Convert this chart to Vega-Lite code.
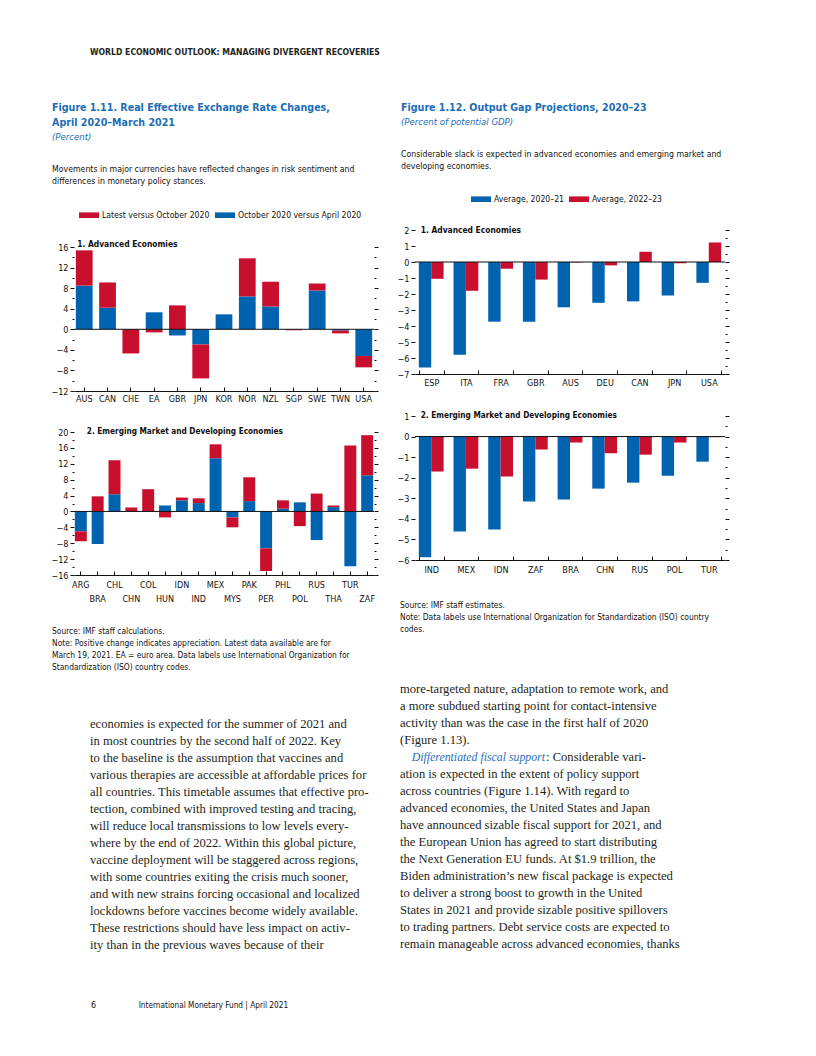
{
  "$schema": "https://vega.github.io/schema/vega-lite/v6.json",
  "background": "white",
  "padding": {"left": 50, "top": 40, "right": 0, "bottom": 20},
  "bounds": "flush",
  "spacing": 341,
  "resolve": {"scale": {"color": "independent"}, "legend": {"color": "independent"}},
  "config": {
    "view": {"stroke": null},
    "font": "'DejaVu Sans Condensed', 'DejaVu Sans', sans-serif",
    "axis": {"labelFont": "'DejaVu Sans Condensed', 'DejaVu Sans', sans-serif", "labelFontSize": 9, "labelColor": "#111111", "tickColor": "#111111", "domainColor": "#111111", "tickWidth": 1, "domainWidth": 1, "grid": false, "title": null},
    "legend": {"labelFont": "'DejaVu Sans Condensed', 'DejaVu Sans', sans-serif", "labelFontSize": 8.6, "labelColor": "#111111", "symbolType": "M-1,-0.28H1V0.28H-1Z", "symbolSize": 400, "symbolStrokeWidth": 0, "symbolOpacity": 1, "columnPadding": 5, "labelOffset": 3, "padding": 0}
  },
  "datasets": {
    "reer_ae": [
      {"country": "AUS", "series": "October 2020 versus April 2020", "value": 8.5},
      {"country": "AUS", "series": "Latest versus October 2020", "value": 6.85},
      {"country": "CAN", "series": "October 2020 versus April 2020", "value": 4.2},
      {"country": "CAN", "series": "Latest versus October 2020", "value": 4.9},
      {"country": "CHE", "series": "October 2020 versus April 2020", "value": 0},
      {"country": "CHE", "series": "Latest versus October 2020", "value": -4.7},
      {"country": "EA", "series": "October 2020 versus April 2020", "value": 3.3},
      {"country": "EA", "series": "Latest versus October 2020", "value": -0.6},
      {"country": "GBR", "series": "October 2020 versus April 2020", "value": -1.2},
      {"country": "GBR", "series": "Latest versus October 2020", "value": 4.65},
      {"country": "JPN", "series": "October 2020 versus April 2020", "value": -2.95},
      {"country": "JPN", "series": "Latest versus October 2020", "value": -6.6},
      {"country": "KOR", "series": "October 2020 versus April 2020", "value": 2.9},
      {"country": "KOR", "series": "Latest versus October 2020", "value": 0},
      {"country": "NOR", "series": "October 2020 versus April 2020", "value": 6.4},
      {"country": "NOR", "series": "Latest versus October 2020", "value": 7.4},
      {"country": "NZL", "series": "October 2020 versus April 2020", "value": 4.45},
      {"country": "NZL", "series": "Latest versus October 2020", "value": 4.8},
      {"country": "SGP", "series": "October 2020 versus April 2020", "value": -0.05},
      {"country": "SGP", "series": "Latest versus October 2020", "value": -0.15},
      {"country": "SWE", "series": "October 2020 versus April 2020", "value": 7.55},
      {"country": "SWE", "series": "Latest versus October 2020", "value": 1.35},
      {"country": "TWN", "series": "October 2020 versus April 2020", "value": -0.25},
      {"country": "TWN", "series": "Latest versus October 2020", "value": -0.55},
      {"country": "USA", "series": "October 2020 versus April 2020", "value": -5.2},
      {"country": "USA", "series": "Latest versus October 2020", "value": -2.2}
    ],
    "reer_em": [
      {"country": "ARG", "series": "October 2020 versus April 2020", "value": -5.0},
      {"country": "ARG", "series": "Latest versus October 2020", "value": -2.5},
      {"country": "BRA", "series": "October 2020 versus April 2020", "value": -8.2},
      {"country": "BRA", "series": "Latest versus October 2020", "value": 3.8},
      {"country": "CHL", "series": "October 2020 versus April 2020", "value": 4.3},
      {"country": "CHL", "series": "Latest versus October 2020", "value": 8.6},
      {"country": "CHN", "series": "October 2020 versus April 2020", "value": 0},
      {"country": "CHN", "series": "Latest versus October 2020", "value": 1.0},
      {"country": "COL", "series": "October 2020 versus April 2020", "value": 0},
      {"country": "COL", "series": "Latest versus October 2020", "value": 5.6},
      {"country": "HUN", "series": "October 2020 versus April 2020", "value": 1.5},
      {"country": "HUN", "series": "Latest versus October 2020", "value": -1.5},
      {"country": "IDN", "series": "October 2020 versus April 2020", "value": 2.8},
      {"country": "IDN", "series": "Latest versus October 2020", "value": 0.7},
      {"country": "IND", "series": "October 2020 versus April 2020", "value": 2.1},
      {"country": "IND", "series": "Latest versus October 2020", "value": 1.2},
      {"country": "MEX", "series": "October 2020 versus April 2020", "value": 13.4},
      {"country": "MEX", "series": "Latest versus October 2020", "value": 3.5},
      {"country": "MYS", "series": "October 2020 versus April 2020", "value": -1.5},
      {"country": "MYS", "series": "Latest versus October 2020", "value": -2.5},
      {"country": "PAK", "series": "October 2020 versus April 2020", "value": 2.6},
      {"country": "PAK", "series": "Latest versus October 2020", "value": 6.0},
      {"country": "PER", "series": "October 2020 versus April 2020", "value": -9.3},
      {"country": "PER", "series": "Latest versus October 2020", "value": -5.7},
      {"country": "PHL", "series": "October 2020 versus April 2020", "value": 0.7},
      {"country": "PHL", "series": "Latest versus October 2020", "value": 2.1},
      {"country": "POL", "series": "October 2020 versus April 2020", "value": 2.3},
      {"country": "POL", "series": "Latest versus October 2020", "value": -3.7},
      {"country": "RUS", "series": "October 2020 versus April 2020", "value": -7.2},
      {"country": "RUS", "series": "Latest versus October 2020", "value": 4.5},
      {"country": "THA", "series": "October 2020 versus April 2020", "value": 1.1},
      {"country": "THA", "series": "Latest versus October 2020", "value": 0.4},
      {"country": "TUR", "series": "October 2020 versus April 2020", "value": -13.8},
      {"country": "TUR", "series": "Latest versus October 2020", "value": 16.6},
      {"country": "ZAF", "series": "October 2020 versus April 2020", "value": 9.1},
      {"country": "ZAF", "series": "Latest versus October 2020", "value": 10.1}
    ],
    "gap_ae": [
      {"country": "ESP", "series": "Average, 2020–21", "value": -6.6},
      {"country": "ESP", "series": "Average, 2022–23", "value": -1.05},
      {"country": "ITA", "series": "Average, 2020–21", "value": -5.8},
      {"country": "ITA", "series": "Average, 2022–23", "value": -1.8},
      {"country": "FRA", "series": "Average, 2020–21", "value": -3.73},
      {"country": "FRA", "series": "Average, 2022–23", "value": -0.42},
      {"country": "GBR", "series": "Average, 2020–21", "value": -3.73},
      {"country": "GBR", "series": "Average, 2022–23", "value": -1.1},
      {"country": "AUS", "series": "Average, 2020–21", "value": -2.83},
      {"country": "AUS", "series": "Average, 2022–23", "value": -0.03},
      {"country": "DEU", "series": "Average, 2020–21", "value": -2.55},
      {"country": "DEU", "series": "Average, 2022–23", "value": -0.21},
      {"country": "CAN", "series": "Average, 2020–21", "value": -2.46},
      {"country": "CAN", "series": "Average, 2022–23", "value": 0.64},
      {"country": "JPN", "series": "Average, 2020–21", "value": -2.1},
      {"country": "JPN", "series": "Average, 2022–23", "value": -0.08},
      {"country": "USA", "series": "Average, 2020–21", "value": -1.3},
      {"country": "USA", "series": "Average, 2022–23", "value": 1.22}
    ],
    "gap_em": [
      {"country": "IND", "series": "Average, 2020–21", "value": -5.87},
      {"country": "IND", "series": "Average, 2022–23", "value": -1.7},
      {"country": "MEX", "series": "Average, 2020–21", "value": -4.62},
      {"country": "MEX", "series": "Average, 2022–23", "value": -1.56},
      {"country": "IDN", "series": "Average, 2020–21", "value": -4.52},
      {"country": "IDN", "series": "Average, 2022–23", "value": -1.94},
      {"country": "ZAF", "series": "Average, 2020–21", "value": -3.16},
      {"country": "ZAF", "series": "Average, 2022–23", "value": -0.63},
      {"country": "BRA", "series": "Average, 2020–21", "value": -3.06},
      {"country": "BRA", "series": "Average, 2022–23", "value": -0.29},
      {"country": "CHN", "series": "Average, 2020–21", "value": -2.53},
      {"country": "CHN", "series": "Average, 2022–23", "value": -0.81},
      {"country": "RUS", "series": "Average, 2020–21", "value": -2.24},
      {"country": "RUS", "series": "Average, 2022–23", "value": -0.88},
      {"country": "POL", "series": "Average, 2020–21", "value": -1.9},
      {"country": "POL", "series": "Average, 2022–23", "value": -0.29},
      {"country": "TUR", "series": "Average, 2020–21", "value": -1.22},
      {"country": "TUR", "series": "Average, 2022–23", "value": -0.03}
    ]
  },
  "hconcat": [
    {
      "bounds": "flush",
      "spacing": 41,
      "resolve": {"scale": {"color": "independent"}, "legend": {"color": "independent"}},
      "vconcat": [
        {
          "width": 300, "height": 166,
          "layer": [
            {"data": {"values": [{"k": 0, "t": "WORLD ECONOMIC OUTLOOK: MANAGING DIVERGENT RECOVERIES"}]},
             "mark": {"type": "text", "align": "left", "baseline": "alphabetic", "fontSize": 8.6, "fontWeight": "bold", "color": "#231F20"},
             "encoding": {"x": {"datum": 0, "type": "quantitative", "scale": {"domain": [0, 1], "range": [16, 17]}, "axis": null},
                          "y": {"field": "k", "type": "quantitative", "scale": {"domain": [0, 1], "range": [15, 31]}, "axis": null},
                          "text": {"field": "t"}}},
            {"data": {"values": [{"k": 0, "t": "Figure 1.11.  Real Effective Exchange Rate Changes,"}, {"k": 1, "t": "April 2020–March 2021"}]},
             "mark": {"type": "text", "align": "left", "baseline": "alphabetic", "fontSize": 10.6, "fontWeight": "bold", "color": "#1B6DB6"},
             "encoding": {"x": {"datum": 0, "type": "quantitative", "scale": {"domain": [0, 1], "range": [-22, -21]}, "axis": null},
                          "y": {"field": "k", "type": "quantitative", "scale": {"domain": [0, 1], "range": [71.4, 86.4]}, "axis": null},
                          "text": {"field": "t"}}},
            {"data": {"values": [{"k": 0, "t": "(Percent)"}]},
             "mark": {"type": "text", "align": "left", "baseline": "alphabetic", "fontSize": 9.5, "fontStyle": "italic", "color": "#1B6DB6"},
             "encoding": {"x": {"datum": 0, "type": "quantitative", "scale": {"domain": [0, 1], "range": [-22, -21]}, "axis": null},
                          "y": {"field": "k", "type": "quantitative", "scale": {"domain": [0, 1], "range": [99.8, 111]}, "axis": null},
                          "text": {"field": "t"}}},
            {"data": {"values": [{"k": 0, "t": "Movements in major currencies have reflected changes in risk sentiment and"}, {"k": 1, "t": "differences in monetary policy stances."}]},
             "mark": {"type": "text", "align": "left", "baseline": "alphabetic", "fontSize": 8.7, "color": "#111111"},
             "encoding": {"x": {"datum": 0, "type": "quantitative", "scale": {"domain": [0, 1], "range": [-22, -21]}, "axis": null},
                          "y": {"field": "k", "type": "quantitative", "scale": {"domain": [0, 1], "range": [131.8, 144.2]}, "axis": null},
                          "text": {"field": "t"}}}
          ],
          "resolve": {"scale": {"x": "independent", "y": "independent"}}
        },
        {
          "width": 300, "height": 144,
          "data": {"name": "reer_ae"},
          "layer": [
            {"mark": {"type": "bar"},
             "encoding": {
               "x": {"field": "country", "type": "nominal", "sort": null, "scale": {"paddingInner": 0.28, "paddingOuter": 0.08},
                     "axis": {"orient": "bottom", "labelAngle": 0, "domain": true, "ticks": true, "tickSize": -4, "labelPadding": 7, "labelOverlap": false}},
               "y": {"field": "value", "type": "quantitative", "stack": "zero", "scale": {"domain": [-12, 16], "nice": false, "zero": false},
                     "axis": {"orient": "left", "format": "d", "values": [-12, -10, -8, -6, -4, -2, 0, 2, 4, 6, 8, 10, 12, 14, 16], "labelExpr": "datum.value % 4 === 0 ? datum.label : ''", "tickSize": {"condition": {"test": "datum.value % 4 === 0", "value": 4}, "value": 2}, "domain": false, "labelPadding": 2}},
               "color": {"field": "series", "type": "nominal", "scale": {"domain": ["Latest versus October 2020", "October 2020 versus April 2020"], "range": ["#C8102E", "#0063AF"]},
                         "legend": {"orient": "none", "legendX": 5, "legendY": -42, "direction": "horizontal", "title": null}},
               "order": {"field": "series", "sort": "descending"}
             }},
            {"data": {"values": [{}]},
             "mark": {"type": "rule", "color": "#111111", "strokeWidth": 1},
             "encoding": {"y": {"datum": 0, "type": "quantitative",
                                "axis": {"orient": "right", "values": [-12, -10, -8, -6, -4, -2, 0, 2, 4, 6, 8, 10, 12, 14, 16], "labels": false, "domain": false, "tickSize": {"condition": {"test": "datum.value % 4 === 0", "value": 4}, "value": 2}}}}},
            {"data": {"values": [{"label": "1. Advanced Economies"}]},
             "mark": {"type": "text", "align": "left", "baseline": "middle", "fontSize": 8.4, "fontWeight": "bold", "color": "#111111", "dx": -7, "dy": -3},
             "encoding": {"x": {"datum": "AUS", "type": "nominal"}, "y": {"datum": 16, "type": "quantitative", "axis": null}, "text": {"field": "label"}}}
          ],
          "resolve": {"axis": {"y": "independent"}}
        },
        {
          "width": 300, "height": 143,
          "data": {"name": "reer_em"},
          "layer": [
            {"mark": {"type": "bar"},
             "encoding": {
               "x": {"field": "country", "type": "nominal", "sort": null, "scale": {"paddingInner": 0.29, "paddingOuter": 0.05},
                     "axis": {"orient": "bottom", "labelAngle": 0, "domain": true, "ticks": true, "tickSize": -4, "labelPadding": 9.5, "labelOverlap": false, "labelLineHeight": 14,
                              "labelExpr": "indexof(['BRA','CHN','HUN','IND','MYS','PER','POL','THA','ZAF'], datum.label) >= 0 ? ['', datum.label] : datum.label"}},
               "y": {"field": "value", "type": "quantitative", "stack": "zero", "scale": {"domain": [-16, 20], "nice": false, "zero": false},
                     "axis": {"orient": "left", "format": "d", "values": [-16, -14, -12, -10, -8, -6, -4, -2, 0, 2, 4, 6, 8, 10, 12, 14, 16, 18, 20], "labelExpr": "datum.value % 4 === 0 ? datum.label : ''", "tickSize": {"condition": {"test": "datum.value % 4 === 0", "value": 4}, "value": 2}, "domain": false, "labelPadding": 2}},
               "color": {"field": "series", "type": "nominal", "scale": {"domain": ["Latest versus October 2020", "October 2020 versus April 2020"], "range": ["#C8102E", "#0063AF"]}, "legend": null},
               "order": {"field": "series", "sort": "descending"}
             }},
            {"data": {"values": [{}]},
             "mark": {"type": "rule", "color": "#111111", "strokeWidth": 1},
             "encoding": {"y": {"datum": 0, "type": "quantitative",
                                "axis": {"orient": "right", "values": [-16, -14, -12, -10, -8, -6, -4, -2, 0, 2, 4, 6, 8, 10, 12, 14, 16, 18, 20], "labels": false, "domain": false, "tickSize": {"condition": {"test": "datum.value % 4 === 0", "value": 4}, "value": 2}}}}},
            {"data": {"values": [{"label": "2. Emerging Market and Developing Economies"}]},
             "mark": {"type": "text", "align": "left", "baseline": "middle", "fontSize": 8.2, "fontWeight": "bold", "color": "#111111", "dx": 6, "dy": 0},
             "encoding": {"x": {"datum": "ARG", "type": "nominal"}, "y": {"datum": 20, "type": "quantitative", "axis": null}, "text": {"field": "label"}}}
          ],
          "resolve": {"axis": {"y": "independent"}}
        },
        {
          "width": 300, "height": 420,
          "layer": [
            {"data": {"values": [
               {"k": 0, "t": "Source: IMF staff calculations."},
               {"k": 1, "t": "Note: Positive change indicates appreciation. Latest data available are for"},
               {"k": 2, "t": "March 19, 2021. EA = euro area. Data labels use International Organization for"},
               {"k": 3, "t": "Standardization (ISO) country codes."}]},
             "mark": {"type": "text", "align": "left", "baseline": "alphabetic", "fontSize": 8.4, "color": "#111111"},
             "encoding": {"x": {"datum": 0, "type": "quantitative", "scale": {"domain": [0, 1], "range": [-22, -21]}, "axis": null},
                          "y": {"field": "k", "type": "quantitative", "scale": {"domain": [0, 1], "range": [17.5, 29.5]}, "axis": null},
                          "text": {"field": "t"}}},
            {"data": {"values": [
               {"k": 0, "t": "economies is expected for the summer of 2021 and"},
               {"k": 1, "t": "in most countries by the second half of 2022. Key"},
               {"k": 2, "t": "to the baseline is the assumption that vaccines and"},
               {"k": 3, "t": "various therapies are accessible at affordable prices for"},
               {"k": 4, "t": "all countries. This timetable assumes that effective pro-"},
               {"k": 5, "t": "tection, combined with improved testing and tracing,"},
               {"k": 6, "t": "will reduce local transmissions to low levels every-"},
               {"k": 7, "t": "where by the end of 2022. Within this global picture,"},
               {"k": 8, "t": "vaccine deployment will be staggered across regions,"},
               {"k": 9, "t": "with some countries exiting the crisis much sooner,"},
               {"k": 10, "t": "and with new strains forcing occasional and localized"},
               {"k": 11, "t": "lockdowns before vaccines become widely available."},
               {"k": 12, "t": "These restrictions should have less impact on activ-"},
               {"k": 13, "t": "ity than in the previous waves because of their"}]},
             "mark": {"type": "text", "align": "left", "baseline": "alphabetic", "font": "'Liberation Serif', 'DejaVu Serif', serif", "fontSize": 12.6, "color": "#231F20"},
             "encoding": {"x": {"datum": 0, "type": "quantitative", "scale": {"domain": [0, 1], "range": [16, 17]}, "axis": null},
                          "y": {"field": "k", "type": "quantitative", "scale": {"domain": [0, 1], "range": [111.5, 128.5]}, "axis": null},
                          "text": {"field": "t"}}},
            {"data": {"values": [{"k": 0, "t": "6"}]},
             "mark": {"type": "text", "align": "left", "baseline": "alphabetic", "fontSize": 9, "color": "#111111"},
             "encoding": {"x": {"datum": 0, "type": "quantitative", "scale": {"domain": [0, 1], "range": [17, 18]}, "axis": null},
                          "y": {"field": "k", "type": "quantitative", "scale": {"domain": [0, 1], "range": [392, 400]}, "axis": null},
                          "text": {"field": "t"}}},
            {"data": {"values": [{"k": 0, "t": "International Monetary Fund | April 2021"}]},
             "mark": {"type": "text", "align": "left", "baseline": "alphabetic", "fontSize": 8.2, "color": "#111111"},
             "encoding": {"x": {"datum": 0, "type": "quantitative", "scale": {"domain": [0, 1], "range": [64.7, 65.7]}, "axis": null},
                          "y": {"field": "k", "type": "quantitative", "scale": {"domain": [0, 1], "range": [392, 400]}, "axis": null},
                          "text": {"field": "t"}}}
          ],
          "resolve": {"scale": {"x": "independent", "y": "independent"}}
        }
      ]
    },
    {
      "bounds": "flush",
      "spacing": 42,
      "resolve": {"scale": {"color": "independent"}, "legend": {"color": "independent"}},
      "vconcat": [
        {
          "width": 310, "height": 148,
          "layer": [
            {"data": {"values": [{"k": 0, "t": "Figure 1.12.  Output Gap Projections, 2020–23"}]},
             "mark": {"type": "text", "align": "left", "baseline": "alphabetic", "fontSize": 10.6, "fontWeight": "bold", "color": "#1B6DB6"},
             "encoding": {"x": {"datum": 0, "type": "quantitative", "scale": {"domain": [0, 1], "range": [-14, -13]}, "axis": null},
                          "y": {"field": "k", "type": "quantitative", "scale": {"domain": [0, 1], "range": [70.7, 85.7]}, "axis": null},
                          "text": {"field": "t"}}},
            {"data": {"values": [{"k": 0, "t": "(Percent of potential GDP)"}]},
             "mark": {"type": "text", "align": "left", "baseline": "alphabetic", "fontSize": 9.5, "fontStyle": "italic", "color": "#1B6DB6"},
             "encoding": {"x": {"datum": 0, "type": "quantitative", "scale": {"domain": [0, 1], "range": [-14, -13]}, "axis": null},
                          "y": {"field": "k", "type": "quantitative", "scale": {"domain": [0, 1], "range": [84.5, 95.5]}, "axis": null},
                          "text": {"field": "t"}}},
            {"data": {"values": [{"k": 0, "t": "Considerable slack is expected in advanced economies and emerging market and"}, {"k": 1, "t": "developing economies."}]},
             "mark": {"type": "text", "align": "left", "baseline": "alphabetic", "fontSize": 8.7, "color": "#111111"},
             "encoding": {"x": {"datum": 0, "type": "quantitative", "scale": {"domain": [0, 1], "range": [-14, -13]}, "axis": null},
                          "y": {"field": "k", "type": "quantitative", "scale": {"domain": [0, 1], "range": [117, 128.7]}, "axis": null},
                          "text": {"field": "t"}}}
          ],
          "resolve": {"scale": {"x": "independent", "y": "independent"}}
        },
        {
          "width": 310, "height": 144,
          "data": {"name": "gap_ae"},
          "layer": [
            {"mark": {"type": "bar"},
             "encoding": {
               "x": {"field": "country", "type": "nominal", "sort": null, "scale": {"paddingInner": 0.285, "paddingOuter": 0.11},
                     "axis": {"orient": "bottom", "labelAngle": 0, "domain": true, "ticks": true, "tickBand": "extent", "tickSize": -4, "labelPadding": 8, "labelOverlap": false}},
               "xOffset": {"field": "series", "type": "nominal", "sort": null, "scale": {"paddingInner": 0, "paddingOuter": 0}},
               "y": {"field": "value", "type": "quantitative", "scale": {"domain": [-7, 2], "nice": false, "zero": false},
                     "axis": {"orient": "left", "format": "d", "values": [-7, -6.5, -6, -5.5, -5, -4.5, -4, -3.5, -3, -2.5, -2, -1.5, -1, -0.5, 0, 0.5, 1, 1.5, 2], "labelExpr": "datum.value % 1 === 0 ? datum.label : ''", "tickSize": {"condition": {"test": "datum.value % 1 === 0", "value": 4}, "value": 2}, "domain": false, "labelPadding": 2}},
               "color": {"field": "series", "type": "nominal", "scale": {"domain": ["Average, 2020–21", "Average, 2022–23"], "range": ["#0063AF", "#C8102E"]},
                         "legend": {"orient": "none", "legendX": 56, "legendY": -41, "direction": "horizontal", "title": null}}
             }},
            {"data": {"values": [{}]},
             "mark": {"type": "rule", "color": "#111111", "strokeWidth": 1},
             "encoding": {"y": {"datum": 0, "type": "quantitative",
                                "axis": {"orient": "right", "values": [-7, -6.5, -6, -5.5, -5, -4.5, -4, -3.5, -3, -2.5, -2, -1.5, -1, -0.5, 0, 0.5, 1, 1.5, 2], "labels": false, "domain": false, "tickSize": {"condition": {"test": "datum.value % 1 === 0", "value": 4}, "value": 2}}}}},
            {"data": {"values": [{"label": "1. Advanced Economies"}]},
             "mark": {"type": "text", "align": "left", "baseline": "middle", "fontSize": 8.4, "fontWeight": "bold", "color": "#111111", "dx": -10.5, "dy": 0},
             "encoding": {"x": {"datum": "ESP", "type": "nominal"}, "y": {"datum": 2, "type": "quantitative", "axis": null}, "text": {"field": "label"}}}
          ],
          "resolve": {"axis": {"y": "independent"}}
        },
        {
          "width": 310, "height": 144,
          "data": {"name": "gap_em"},
          "layer": [
            {"mark": {"type": "bar"},
             "encoding": {
               "x": {"field": "country", "type": "nominal", "sort": null, "scale": {"paddingInner": 0.285, "paddingOuter": 0.11},
                     "axis": {"orient": "bottom", "labelAngle": 0, "domain": true, "ticks": true, "tickBand": "extent", "tickSize": -4, "labelPadding": 9.5, "labelOverlap": false}},
               "xOffset": {"field": "series", "type": "nominal", "sort": null, "scale": {"paddingInner": 0, "paddingOuter": 0}},
               "y": {"field": "value", "type": "quantitative", "scale": {"domain": [-6, 1], "nice": false, "zero": false},
                     "axis": {"orient": "left", "format": "d", "values": [-6, -5.5, -5, -4.5, -4, -3.5, -3, -2.5, -2, -1.5, -1, -0.5, 0, 0.5, 1], "labelExpr": "datum.value % 1 === 0 ? datum.label : ''", "tickSize": {"condition": {"test": "datum.value % 1 === 0", "value": 4}, "value": 2}, "domain": false, "labelPadding": 2}},
               "color": {"field": "series", "type": "nominal", "scale": {"domain": ["Average, 2020–21", "Average, 2022–23"], "range": ["#0063AF", "#C8102E"]}, "legend": null}
             }},
            {"data": {"values": [{}]},
             "mark": {"type": "rule", "color": "#111111", "strokeWidth": 1},
             "encoding": {"y": {"datum": 0, "type": "quantitative",
                                "axis": {"orient": "right", "values": [-6, -5.5, -5, -4.5, -4, -3.5, -3, -2.5, -2, -1.5, -1, -0.5, 0, 0.5, 1], "labels": false, "domain": false, "tickSize": {"condition": {"test": "datum.value % 1 === 0", "value": 4}, "value": 2}}}}},
            {"data": {"values": [{"label": "2. Emerging Market and Developing Economies"}]},
             "mark": {"type": "text", "align": "left", "baseline": "middle", "fontSize": 8.2, "fontWeight": "bold", "color": "#111111", "dx": -10.5, "dy": 0},
             "encoding": {"x": {"datum": "IND", "type": "nominal"}, "y": {"datum": 1, "type": "quantitative", "axis": null}, "text": {"field": "label"}}}
          ],
          "resolve": {"axis": {"y": "independent"}}
        },
        {
          "width": 310, "height": 434,
          "layer": [
            {"data": {"values": [
               {"k": 0, "t": "Source: IMF staff estimates."},
               {"k": 1, "t": "Note: Data labels use International Organization for Standardization (ISO) country"},
               {"k": 2, "t": "codes."}]},
             "mark": {"type": "text", "align": "left", "baseline": "alphabetic", "fontSize": 8.4, "color": "#111111"},
             "encoding": {"x": {"datum": 0, "type": "quantitative", "scale": {"domain": [0, 1], "range": [-15, -14]}, "axis": null},
                          "y": {"field": "k", "type": "quantitative", "scale": {"domain": [0, 1], "range": [5.5, 17.5]}, "axis": null},
                          "text": {"field": "t"}}},
            {"data": {"values": [
               {"k": 0, "t": "more-targeted nature, adaptation to remote work, and"},
               {"k": 1, "t": "a more subdued starting point for contact-intensive"},
               {"k": 2, "t": "activity than was the case in the first half of 2020"},
               {"k": 3, "t": "(Figure 1.13)."},
               {"k": 5, "t": "ation is expected in the extent of policy support"},
               {"k": 6, "t": "across countries (Figure 1.14). With regard to"},
               {"k": 7, "t": "advanced economies, the United States and Japan"},
               {"k": 8, "t": "have announced sizable fiscal support for 2021, and"},
               {"k": 9, "t": "the European Union has agreed to start distributing"},
               {"k": 10, "t": "the Next Generation EU funds. At $1.9 trillion, the"},
               {"k": 11, "t": "Biden administration’s new fiscal package is expected"},
               {"k": 12, "t": "to deliver a strong boost to growth in the United"},
               {"k": 13, "t": "States in 2021 and provide sizable positive spillovers"},
               {"k": 14, "t": "to trading partners. Debt service costs are expected to"},
               {"k": 15, "t": "remain manageable across advanced economies, thanks"}]},
             "mark": {"type": "text", "align": "left", "baseline": "alphabetic", "font": "'Liberation Serif', 'DejaVu Serif', serif", "fontSize": 12.6, "color": "#231F20"},
             "encoding": {"x": {"datum": 0, "type": "quantitative", "scale": {"domain": [0, 1], "range": [-15, -14]}, "axis": null},
                          "y": {"field": "k", "type": "quantitative", "scale": {"domain": [0, 1], "range": [90.5, 107.5]}, "axis": null},
                          "text": {"field": "t"}}},
            {"data": {"values": [{"k": 4, "t": "Differentiated fiscal support"}]},
             "mark": {"type": "text", "align": "left", "baseline": "alphabetic", "font": "'Liberation Serif', 'DejaVu Serif', serif", "fontSize": 11.8, "fontStyle": "italic", "color": "#2A6EBB"},
             "encoding": {"x": {"datum": 0, "type": "quantitative", "scale": {"domain": [0, 1], "range": [-3.3, -2.3]}, "axis": null},
                          "y": {"field": "k", "type": "quantitative", "scale": {"domain": [0, 1], "range": [90.5, 107.5]}, "axis": null},
                          "text": {"field": "t"}}},
            {"data": {"values": [{"k": 4, "t": ": Considerable vari-"}]},
             "mark": {"type": "text", "align": "left", "baseline": "alphabetic", "font": "'Liberation Serif', 'DejaVu Serif', serif", "fontSize": 12.6, "color": "#231F20"},
             "encoding": {"x": {"datum": 0, "type": "quantitative", "scale": {"domain": [0, 1], "range": [131, 132]}, "axis": null},
                          "y": {"field": "k", "type": "quantitative", "scale": {"domain": [0, 1], "range": [90.5, 107.5]}, "axis": null},
                          "text": {"field": "t"}}}
          ],
          "resolve": {"scale": {"x": "independent", "y": "independent"}}
        }
      ]
    }
  ]
}
